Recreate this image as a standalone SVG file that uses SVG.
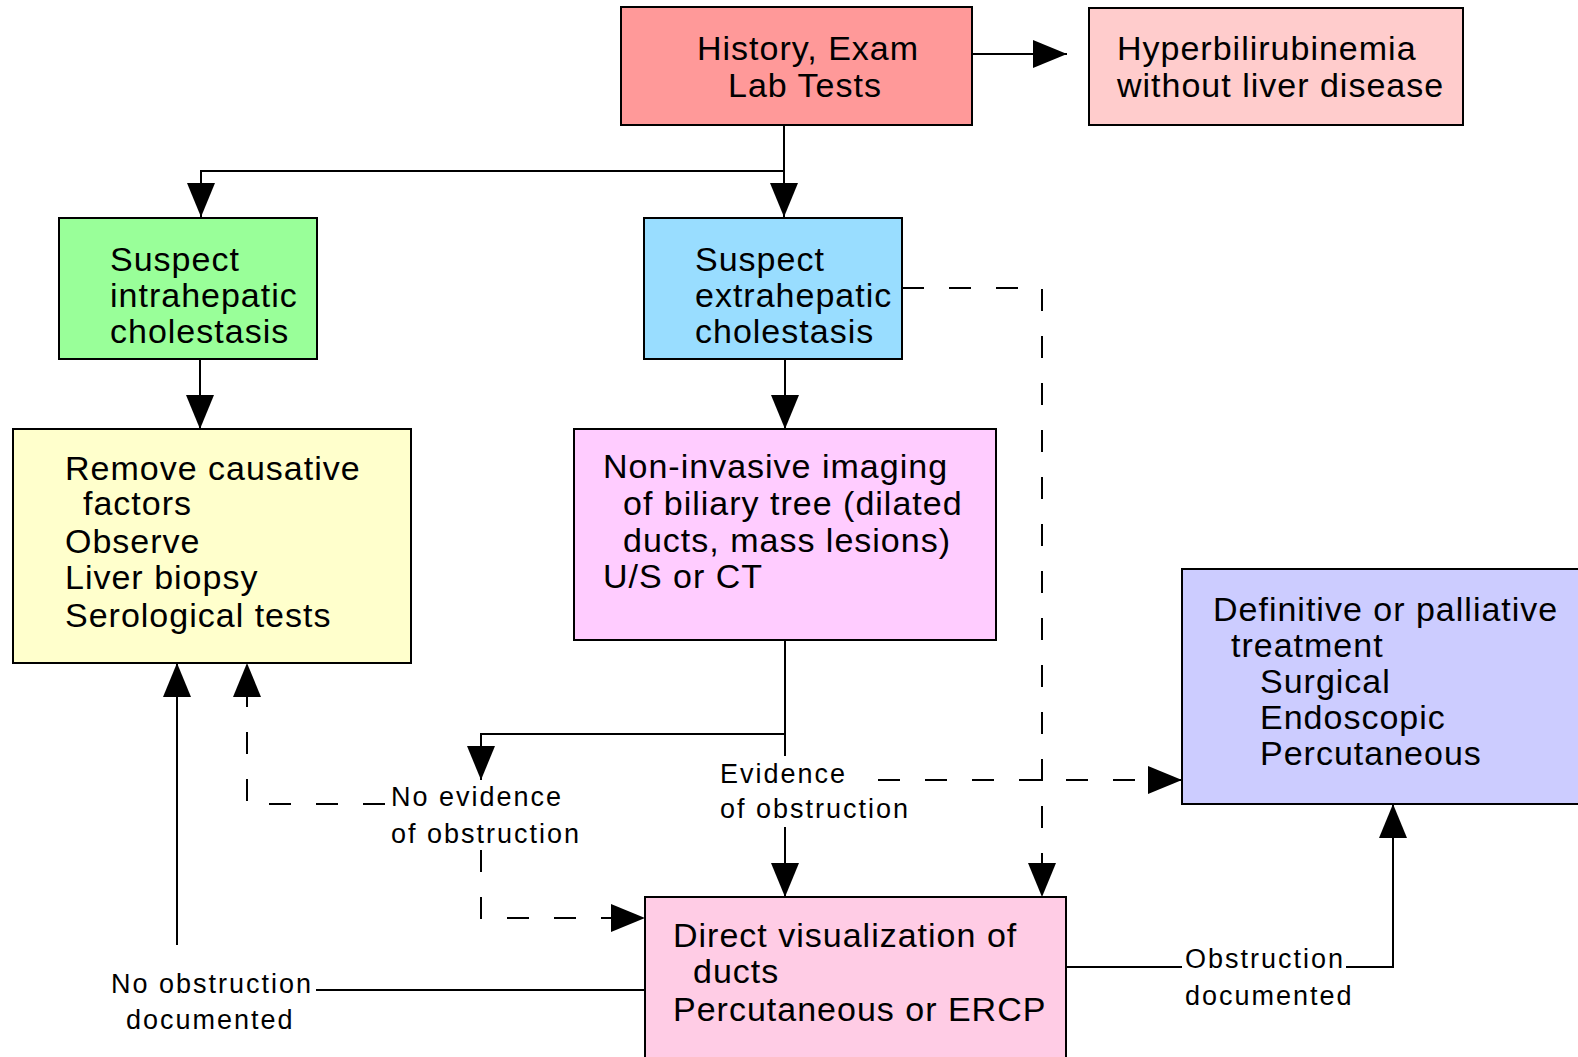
<svg xmlns="http://www.w3.org/2000/svg" width="1578" height="1057" viewBox="0 0 1578 1057">
<defs>
<style>
.box{stroke:#000;stroke-width:2}
.t{font-family:"Liberation Sans",Arial,sans-serif;font-size:34px;letter-spacing:1px;fill:#000}
.l{font-family:"Liberation Sans",Arial,sans-serif;font-size:27px;letter-spacing:2px;fill:#000}
.c{fill:none;stroke:#000;stroke-width:2}
.d{stroke-dasharray:22 25}
</style>
<marker id="ah" markerUnits="userSpaceOnUse" markerWidth="36" markerHeight="30" refX="34" refY="14" orient="auto">
<path d="M0,0 L34,14 L0,28 Z" fill="#000"/>
</marker>
</defs>
<rect width="1578" height="1057" fill="#fff"/>
<g id="connectors">
<path class="c" d="M972,54 H1067" marker-end="url(#ah)"/>
<path class="c" d="M784,125 V217" marker-end="url(#ah)"/>
<path class="c" d="M784,171 H201 V217" marker-end="url(#ah)"/>
<path class="c" d="M200,359 V429" marker-end="url(#ah)"/>
<path class="c" d="M785,359 V429" marker-end="url(#ah)"/>
<path class="c d" d="M902,288 H1042 V897" marker-end="url(#ah)"/>
<path class="c" d="M785,640 V756"/>
<path class="c" d="M785,734 H481 V780" marker-end="url(#ah)"/>
<path class="c" d="M785,827 V897" marker-end="url(#ah)"/>
<path class="c d" d="M878,780 H1182" marker-end="url(#ah)"/>
<path class="c d" d="M385,804 H247 V663" marker-end="url(#ah)"/>
<path class="c d" d="M481,850 V918 H645" marker-end="url(#ah)"/>
<path class="c" d="M177,945 V663" marker-end="url(#ah)"/>
<path class="c" d="M645,990 H316"/>
<path class="c" d="M1066,967 H1182"/>
<path class="c" d="M1346,967 H1393 V804" marker-end="url(#ah)"/>
<text class="l" x="391" y="806">No evidence</text>
<text class="l" x="391" y="843">of obstruction</text>
<text class="l" x="720" y="783">Evidence</text>
<text class="l" x="720" y="818">of obstruction</text>
<text class="l" x="111" y="993">No obstruction</text>
<text class="l" x="126" y="1029">documented</text>
<text class="l" x="1185" y="968">Obstruction</text>
<text class="l" x="1185" y="1005">documented</text>
</g>
<g id="history">
<rect class="box" x="621" y="7" width="351" height="118" fill="#FF9999"/>
<text class="t" x="697" y="60">History, Exam</text>
<text class="t" x="728" y="97">Lab Tests</text>
</g>
<g id="hyper">
<rect class="box" x="1089" y="8" width="374" height="117" fill="#FFCCCC"/>
<text class="t" x="1117" y="60">Hyperbilirubinemia</text>
<text class="t" x="1117" y="97">without liver disease</text>
</g>
<g id="intra">
<rect class="box" x="59" y="218" width="258" height="141" fill="#99FF99"/>
<text class="t" x="110" y="271">Suspect</text>
<text class="t" x="110" y="307">intrahepatic</text>
<text class="t" x="110" y="343">cholestasis</text>
</g>
<g id="extra">
<rect class="box" x="644" y="218" width="258" height="141" fill="#99DDFF"/>
<text class="t" x="695" y="271">Suspect</text>
<text class="t" x="695" y="307">extrahepatic</text>
<text class="t" x="695" y="343">cholestasis</text>
</g>
<g id="remove">
<rect class="box" x="13" y="429" width="398" height="234" fill="#FFFFCC"/>
<text class="t" x="65" y="480">Remove causative</text>
<text class="t" x="83" y="515">factors</text>
<text class="t" x="65" y="553">Observe</text>
<text class="t" x="65" y="589">Liver biopsy</text>
<text class="t" x="65" y="627">Serological tests</text>
</g>
<g id="imaging">
<rect class="box" x="574" y="429" width="422" height="211" fill="#FFCCFF"/>
<text class="t" x="603" y="478">Non-invasive imaging</text>
<text class="t" x="623" y="515">of biliary tree (dilated</text>
<text class="t" x="623" y="552">ducts, mass lesions)</text>
<text class="t" x="603" y="588">U/S or CT</text>
</g>
<g id="definitive">
<rect class="box" x="1182" y="569" width="420" height="235" fill="#CCCCFF"/>
<text class="t" x="1213" y="621">Definitive or palliative</text>
<text class="t" x="1231" y="657">treatment</text>
<text class="t" x="1260" y="693">Surgical</text>
<text class="t" x="1260" y="729">Endoscopic</text>
<text class="t" x="1260" y="765">Percutaneous</text>
</g>
<g id="direct">
<rect class="box" x="645" y="897" width="421" height="170" fill="#FFCCE5"/>
<text class="t" x="673" y="947">Direct visualization of</text>
<text class="t" x="693" y="983">ducts</text>
<text class="t" x="673" y="1021">Percutaneous or ERCP</text>
</g>
</svg>
